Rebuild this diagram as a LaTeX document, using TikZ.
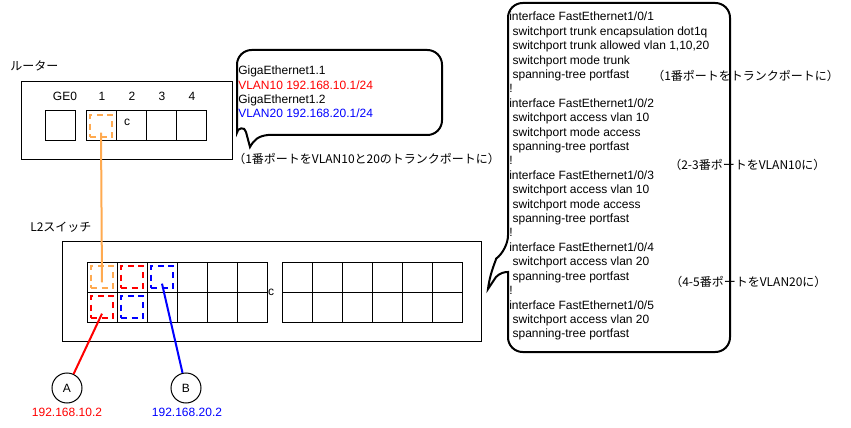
\documentclass[tikz,border=0pt]{standalone}
\usepackage{fontspec}
\setmainfont{Liberation Sans}
\newfontfamily\jp{Noto Sans CJK JP}
\definecolor{portorange}{RGB}{255,170,80}

\begin{document}
\begin{tikzpicture}[x=0.75pt, y=-0.75pt,
        every node/.style={inner sep=0pt, font=\fontsize{9}{10.8}\selectfont},
        box/.style={draw, line width=0.75pt},
        port/.style={draw, line width=0.75pt, minimum size=22.5pt},
        vport/.style={draw=#1, line width=1.5pt, dash pattern=on 4.5pt off 3.5pt, minimum size=16.5pt},
        bubble/.style={line width=1.5pt, rounded corners=11pt},
        link/.style={line width=1.5pt, draw=#1},
        host/.style={draw, circle, line width=0.75pt, minimum size=22.5pt}]
        \useasboundingbox (0,0) rectangle (851,428);

        \node[anchor=west] (rtlabel) at (10,66) {\jp ルーター};
        \draw[box] (21,82) rectangle (232,160);
        \node[port] (ge0) at (60,126) {};
        \node (ge0lbl) at (65,96) {GE0};
        \foreach \x [count=\i] in {101,131,161,191} {
            \node[port] (rp\i) at (\x,126) {};
            \node (rplbl\i) at (\x+1,96) {\i};
        }
        \node (rpc) at (127,122) {c};
        \node[vport=portorange] (rv1) at (rp1) {};

        \node[anchor=west] (swlabel) at (30,227) {\jp L2スイッチ};
        \draw[box] (62,241) rectangle (481,341);
        \foreach \x [count=\i] in {102,132,...,252} {
            \node[port] (sa\i) at (\x,277) {};
            \node[port] (sb\i) at (\x,307) {};
        }
        \foreach \x [count=\i] in {297,327,...,447} {
            \node[port] (sc\i) at (\x,277) {};
            \node[port] (sd\i) at (\x,307) {};
        }
        \node (swc) at (271,292) {c};
        \node[vport=portorange] (sv1) at (sa1) {};
        \node[vport=red] (sv2) at (sa2) {};
        \node[vport=blue] (sv3) at (sa3) {};
        \node[vport=red] (sv4) at (sb1) {};
        \node[vport=blue] (sv5) at (sb2) {};

        \node[host] (hostA) at (67,388) {A};
        \node[host] (hostB) at (186,388) {B};
        \node[red] (ipA) at (67,412) {192.168.10.2};
        \node[blue] (ipB) at (187,412) {192.168.20.2};

        \draw[link=portorange] ([yshift=-5pt]rv1.center) -- ([yshift=-4pt]sv1.center);
        \draw[link=red] (hostA) -- ([yshift=-5pt]sv4.center);
        \draw[link=blue] (hostB) -- ([yshift=-5pt]sv3.center);

        \draw[bubble] (268,135) -- (442,135) -- (442,50) -- (237,50) -- (237,118) [sharp corners]
            .. controls (237,128) and (245,126) .. (246,132) -- (250,147)
            .. controls (254,140) and (258,136) .. (268,135) -- cycle;
        \node[anchor=base west] (ge11) at (238,75) {GigaEthernet1.1};
        \node[anchor=base west, red] (vlan10) at (238,89.2) {VLAN10 192.168.10.1/24};
        \node[anchor=base west] (ge12) at (238,103.4) {GigaEthernet1.2};
        \node[anchor=base west, blue] (vlan20) at (238,117.6) {VLAN20 192.168.20.1/24};
        \node[anchor=west] (rtnote) at (233,159) {\jp （1番ポートをVLAN10と20のトランクポートに）};

        \draw[bubble] (508,272) -- (508,352) -- (730,352) -- (730,3) -- (508,3) -- (508,250) [sharp corners]
            .. controls (497,258) and (490,272) .. (488,289) -- (496,277)
            .. controls (500,273) and (504,272) .. (508,272) -- cycle;
        \foreach \t [count=\i from 0] in {interface FastEthernet1/0/1, \ switchport trunk encapsulation dot1q,
            {\ switchport trunk allowed vlan 1,10,20}, \ switchport mode trunk, \ spanning-tree portfast, !,
            interface FastEthernet1/0/2, \ switchport access vlan 10, \ switchport mode access, \ spanning-tree portfast, !,
            interface FastEthernet1/0/3, \ switchport access vlan 10, \ switchport mode access, \ spanning-tree portfast, !,
            interface FastEthernet1/0/4, \ switchport access vlan 20, \ spanning-tree portfast, !,
            interface FastEthernet1/0/5, \ switchport access vlan 20, \ spanning-tree portfast}
            \node[anchor=base west] (cfg\i) at (509,{21+14.4*\i}) {\t};
        \node[anchor=west] (note1) at (652,76) {\jp （1番ポートをトランクポートに）};
        \node[anchor=west] (note2) at (669,165) {\jp （2-3番ポートをVLAN10に）};
        \node[anchor=west] (note3) at (670,282) {\jp （4-5番ポートをVLAN20に）};
    \end{tikzpicture}
\end{document}
